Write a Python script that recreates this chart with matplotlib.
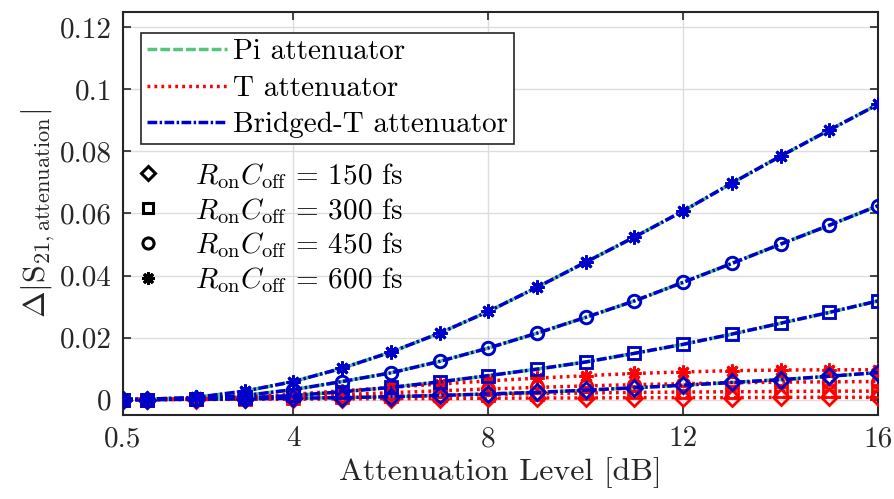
import matplotlib
matplotlib.use("Agg")
from matplotlib import pyplot as plt
from matplotlib.lines import Line2D

plt.rcParams['font.family'] = ['cmr10', 'DejaVu Serif']
plt.rcParams['mathtext.fontset'] = 'cm'
plt.rcParams['axes.unicode_minus'] = False

# Attenuation levels (dB)
atten_db = [0.5, 1, 2, 3, 4, 5, 6, 7, 8, 9, 10, 11, 12, 13, 14, 15, 16]

# Bridged-T attenuator, one list per RonCoff
bt_150 = [0, 0, 0.0001, 0.0002, 0.0004, 0.0006, 0.0009, 0.0013, 0.0018, 0.0023, 0.0030, 0.0038, 0.0046, 0.0055, 0.0064, 0.0075, 0.0087]
bt_300 = [0, 0, 0.0001, 0.0005, 0.0013, 0.0025, 0.0039, 0.0057, 0.0077, 0.0098, 0.0121, 0.0149, 0.0178, 0.0211, 0.0246, 0.0281, 0.0318]
bt_450 = [0, 0, 0.0003, 0.0013, 0.0032, 0.0058, 0.0086, 0.0123, 0.0166, 0.0214, 0.0265, 0.0318, 0.0378, 0.0439, 0.0501, 0.0562, 0.0625]
bt_600 = [0, 0.0001, 0.0007, 0.0027, 0.0058, 0.0101, 0.0153, 0.0214, 0.0284, 0.0362, 0.0443, 0.0524, 0.0608, 0.0698, 0.0785, 0.0869, 0.0952]

# Pi attenuator (lies right under the bridged-T curves)
pi_150 = [0, 0, 0.0001, 0.0002, 0.0004, 0.0006, 0.0009, 0.0013, 0.0018, 0.0023, 0.0030, 0.0038, 0.0046, 0.0055, 0.0064, 0.0075, 0.0087]
pi_300 = [0, 0, 0.0001, 0.0005, 0.0013, 0.0025, 0.0039, 0.0057, 0.0077, 0.0098, 0.0121, 0.0149, 0.0178, 0.0211, 0.0246, 0.0281, 0.0318]
pi_450 = [0, 0, 0.0003, 0.0013, 0.0032, 0.0058, 0.0086, 0.0123, 0.0166, 0.0214, 0.0265, 0.0318, 0.0378, 0.0439, 0.0501, 0.0562, 0.0625]
pi_600 = [0, 0.0001, 0.0007, 0.0027, 0.0058, 0.0101, 0.0153, 0.0214, 0.0284, 0.0362, 0.0443, 0.0524, 0.0608, 0.0698, 0.0785, 0.0869, 0.0952]

# T attenuator
t_150 = [0, 0, 0, 0.0001, 0.0001, 0.0002, 0.0003, 0.0003, 0.0004, 0.0005, 0.0005, 0.0006, 0.0006, 0.0006, 0.0007, 0.0007, 0.0007]
t_300 = [0, 0, 0.0001, 0.0002, 0.0005, 0.0008, 0.0011, 0.0014, 0.0016, 0.0019, 0.0021, 0.0023, 0.0024, 0.0025, 0.0026, 0.0027, 0.0027]
t_450 = [0, 0, 0.0001, 0.0005, 0.0010, 0.0016, 0.0022, 0.0028, 0.0034, 0.0039, 0.0044, 0.0048, 0.0051, 0.0054, 0.0056, 0.0057, 0.0058]
t_600 = [0, 0, 0.0002, 0.0008, 0.0017, 0.0028, 0.0039, 0.0050, 0.0060, 0.0069, 0.0077, 0.0084, 0.0089, 0.0093, 0.0095, 0.0096, 0.0096]

ron_coff = ['150', '300', '450', '600']
x_ticks = [0.5, 4, 8, 12, 16]
y_ticks = [0, 0.02, 0.04, 0.06, 0.08, 0.1, 0.12]
y_tick_labels = ['0', '0.02', '0.04', '0.06', '0.08', '0.1', '0.12']

GREEN = '#55c57a'
RED = '#ff0000'
BLUE = '#0000cc'
markers = ['D', 's', 'o', (8, 2, 0)]
marker_sizes = [8, 8, 9, 10]

fig = plt.figure(figsize=(8.95, 4.99), dpi=100)
ax = fig.add_axes([0.1374, 0.1683, 0.8436, 0.8077])

pi_sets = [pi_150, pi_300, pi_450, pi_600]
t_sets = [t_150, t_300, t_450, t_600]
bt_sets = [bt_150, bt_300, bt_450, bt_600]

# Draw each attenuator family
for vals, m, ms in zip(pi_sets, markers, marker_sizes):
    ax.plot(atten_db, vals, color=GREEN, lw=2.5, dashes=(2.8, 0.9), marker=m, ms=ms,
            mfc='none', mew=2, zorder=2)
for vals, m, ms in zip(t_sets, markers, marker_sizes):
    ax.plot(atten_db, vals, color=RED, lw=2.5, dashes=(0.8, 1.2), marker=m, ms=ms,
            mfc='none', mew=2, zorder=3)
for vals, m, ms in zip(bt_sets, markers, marker_sizes):
    ax.plot(atten_db, vals, color=BLUE, lw=2.5, dashes=(2.8, 0.7, 0.7, 0.7), marker=m, ms=ms,
            mfc='none', mew=2, zorder=4)

ax.set_xlim(0.5, 16)
ax.set_ylim(-0.005, 0.125)
ax.set_xticks(x_ticks)
ax.set_xticklabels([f"{t:g}" for t in x_ticks])
ax.set_yticks(y_ticks)
ax.set_yticklabels(y_tick_labels)
ax.tick_params(direction='in', length=6, width=1.2, labelsize=21, top=True, right=True,
               colors='#262626', labelcolor='#262626', pad=8)
ax.grid(True, color='#dddddd', lw=1)
ax.set_axisbelow(True)
for sp in ax.spines.values():
    sp.set_color('#262626')
    sp.set_linewidth(1.5)

ax.set_xlabel('Attenuation Level [dB]', fontsize=23, color='#262626', labelpad=3)
ax.set_ylabel(r'$\Delta|\mathrm{S}_{21,\mathrm{attenuation}}|$', fontsize=23, color='#262626', labelpad=2)

# Legend for line styles
style_handles = [
    Line2D([], [], color=GREEN, lw=2.5, dashes=(2.8, 0.9)),
    Line2D([], [], color=RED, lw=2.5, dashes=(0.8, 1.2)),
    Line2D([], [], color=BLUE, lw=2.5, dashes=(2.8, 0.7, 0.7, 0.7)),
]
leg1 = ax.legend(style_handles, ['Pi attenuator', 'T attenuator', 'Bridged-T attenuator'],
                 loc='upper left', bbox_to_anchor=(0.0238, 0.948), borderaxespad=0,
                 fontsize=21, handlelength=2.75, handletextpad=0.2, labelspacing=0.35,
                 borderpad=0.2, fancybox=False, edgecolor='#262626', framealpha=1)
leg1.get_frame().set_linewidth(1.2)
ax.add_artist(leg1)

# Legend for markers
marker_handles = [Line2D([], [], color='k', ls='none', marker=m, ms=ms - 1, mfc='none', mew=2.2)
                  for m, ms in zip(markers, marker_sizes)]
marker_labels = [r'$R_{\mathrm{on}}C_{\mathrm{off}}$ = ' + v + ' fs' for v in ron_coff]
ax.legend(marker_handles, marker_labels, loc='upper left', bbox_to_anchor=(0.014, 0.631),
          borderaxespad=0, borderpad=0, frameon=False, fontsize=21, handlelength=1.0,
          handletextpad=1.1, labelspacing=0.17)

fig.savefig('out.png', dpi=100)
